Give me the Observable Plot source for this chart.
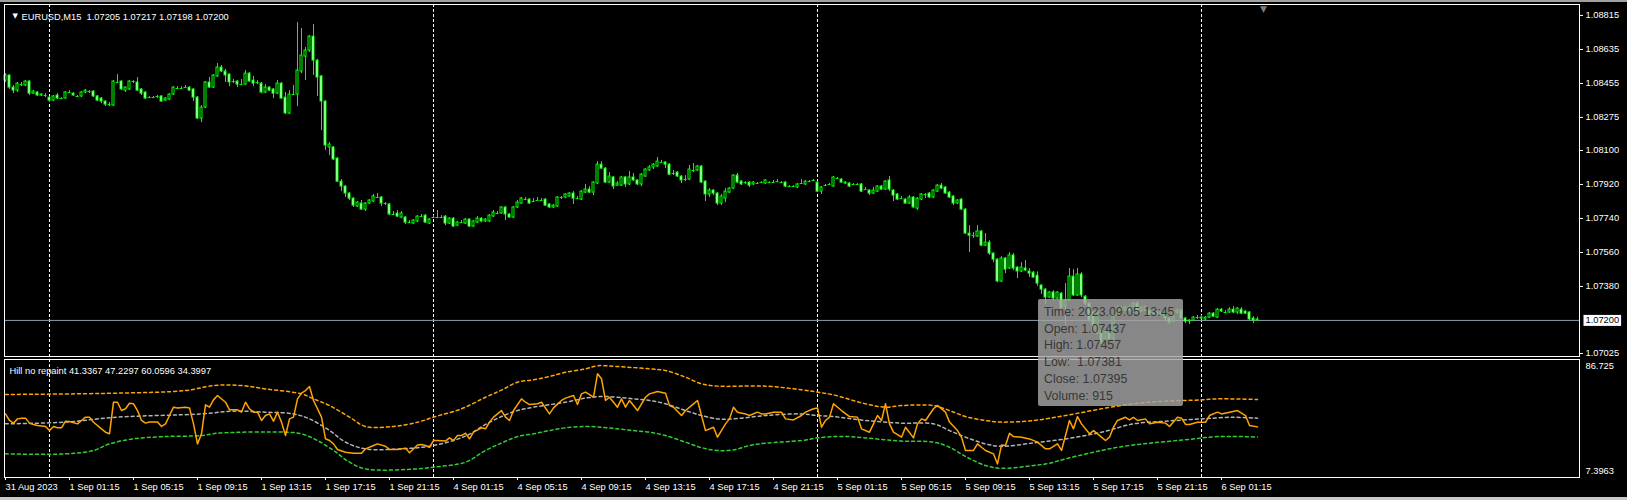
<!DOCTYPE html>
<html><head><meta charset="utf-8">
<script src="https://cdn.jsdelivr.net/npm/d3@7"></script>
<script src="https://cdn.jsdelivr.net/npm/@observablehq/plot@0.6"></script>
<style>
html,body{margin:0;padding:0;background:#000;}
#wrap{position:relative;width:1627px;height:500px;background:#000;overflow:hidden;font-family:"Liberation Sans",Arial,sans-serif;}
#main{position:absolute;left:0;top:0;}
#ind{position:absolute;left:0;top:357px;}
#topbar{position:absolute;left:0;top:0;width:1627px;height:2px;background:#a0a0a0;}
#botbar{position:absolute;left:0;top:497px;width:1627px;height:3px;background:#c8c8c8;}
#tip{position:absolute;left:1038px;top:299px;width:145px;height:107px;background:rgba(165,165,165,0.82);border-radius:2px;color:#383838;font-size:12.4px;line-height:16.7px;padding:5px 0 0 6px;box-sizing:border-box;white-space:pre;}
</style></head>
<body><div id="wrap"><div id="main"></div><div id="ind"></div><div id="topbar"></div><div id="botbar"></div><div id="tip"></div></div>
<script>
const symbol = "EURUSD,M15";
const open = [1.08470,1.08497,1.08433,1.08417,1.08449,1.08444,1.08465,1.08401,1.08407,1.08391,
1.08391,1.08380,1.08364,1.08391,1.08375,1.08375,1.08407,1.08401,1.08386,1.08386,
1.08407,1.08412,1.08412,1.08386,1.08375,1.08359,1.08343,1.08338,1.08460,1.08465,
1.08417,1.08423,1.08465,1.08460,1.08423,1.08407,1.08380,1.08380,1.08386,1.08386,
1.08364,1.08370,1.08396,1.08428,1.08428,1.08433,1.08433,1.08423,1.08380,1.08269,
1.08327,1.08460,1.08433,1.08492,1.08539,1.08518,1.08502,1.08465,1.08465,1.08449,
1.08449,1.08507,1.08470,1.08460,1.08454,1.08407,1.08433,1.08423,1.08401,1.08454,
1.08380,1.08296,1.08396,1.08396,1.08518,1.08597,1.08629,1.08703,1.08576,1.08492,
1.08359,1.08116,1.08116,1.08057,1.07935,1.07909,1.07872,1.07845,1.07803,1.07819,
1.07787,1.07819,1.07830,1.07851,1.07851,1.07819,1.07814,1.07761,1.07766,1.07745,
1.07745,1.07718,1.07713,1.07724,1.07750,1.07755,1.07713,1.07745,1.07745,1.07745,
1.07750,1.07713,1.07739,1.07702,1.07718,1.07713,1.07734,1.07697,1.07718,1.07739,
1.07724,1.07724,1.07750,1.07766,1.07766,1.07798,1.07761,1.07745,1.07798,1.07819,
1.07840,1.07840,1.07830,1.07835,1.07835,1.07840,1.07814,1.07798,1.07803,1.07851,
1.07851,1.07856,1.07872,1.07845,1.07840,1.07877,1.07893,1.07877,1.07925,1.08025,
1.08004,1.07930,1.07957,1.07914,1.07914,1.07957,1.07920,1.07957,1.07941,1.07920,
1.07962,1.07994,1.08010,1.08015,1.08036,1.08036,1.08025,1.07978,1.07983,1.07962,
1.07946,1.07946,1.07994,1.07994,1.08015,1.07935,1.07867,1.07888,1.07872,1.07819,
1.07845,1.07877,1.07898,1.07967,1.07935,1.07930,1.07930,1.07920,1.07925,1.07930,
1.07925,1.07930,1.07930,1.07935,1.07930,1.07930,1.07909,1.07909,1.07904,1.07925,
1.07920,1.07935,1.07941,1.07930,1.07882,1.07914,1.07920,1.07909,1.07951,1.07946,
1.07930,1.07925,1.07920,1.07920,1.07920,1.07893,1.07888,1.07872,1.07882,1.07909,
1.07893,1.07941,1.07888,1.07867,1.07845,1.07840,1.07819,1.07851,1.07792,1.07840,
1.07867,1.07872,1.07851,1.07882,1.07914,1.07904,1.07877,1.07856,1.07819,1.07840,
1.07787,1.07660,1.07649,1.07644,1.07671,1.07596,1.07612,1.07554,1.07522,1.07406,
1.07528,1.07475,1.07544,1.07480,1.07459,1.07475,1.07459,1.07453,1.07437,1.07385,
1.07363,1.07321,1.07348,1.07316,1.07342,1.07273,1.07305,1.07432,1.07332,1.07443,
1.07326,1.07289,1.07242,1.07130,1.07146,1.07104,1.07136,1.07104,1.07226,1.07263,
1.07252,1.07268,1.07252,1.07289,1.07247,1.07268,1.07252,1.07226,1.07236,1.07242,
1.07231,1.07210,1.07194,1.07242,1.07252,1.07210,1.07194,1.07199,1.07215,1.07215,
1.07205,1.07215,1.07236,1.07215,1.07257,1.07242,1.07242,1.07257,1.07242,1.07257,
1.07247,1.07242,1.07210,1.07205];
const high = [1.08507,1.08502,1.08444,1.08460,1.08460,1.08470,1.08470,1.08417,1.08412,1.08401,
1.08401,1.08386,1.08391,1.08401,1.08380,1.08412,1.08417,1.08407,1.08391,1.08412,
1.08423,1.08417,1.08417,1.08391,1.08380,1.08364,1.08354,1.08470,1.08502,1.08470,
1.08438,1.08470,1.08470,1.08486,1.08428,1.08412,1.08386,1.08386,1.08391,1.08391,
1.08380,1.08401,1.08438,1.08438,1.08438,1.08444,1.08438,1.08428,1.08386,1.08338,
1.08465,1.08486,1.08502,1.08560,1.08550,1.08529,1.08507,1.08476,1.08470,1.08476,
1.08523,1.08513,1.08492,1.08470,1.08460,1.08449,1.08438,1.08428,1.08470,1.08460,
1.08407,1.08417,1.08444,1.08777,1.08746,1.08645,1.08709,1.08767,1.08582,1.08497,
1.08364,1.08142,1.08121,1.08063,1.07946,1.07914,1.07877,1.07851,1.07830,1.07835,
1.07824,1.07840,1.07867,1.07872,1.07856,1.07824,1.07819,1.07777,1.07782,1.07777,
1.07750,1.07729,1.07734,1.07755,1.07761,1.07761,1.07739,1.07755,1.07782,1.07755,
1.07755,1.07745,1.07745,1.07724,1.07729,1.07739,1.07739,1.07729,1.07750,1.07745,
1.07739,1.07761,1.07782,1.07777,1.07803,1.07803,1.07766,1.07803,1.07835,1.07851,
1.07851,1.07845,1.07845,1.07851,1.07845,1.07845,1.07819,1.07814,1.07856,1.07856,
1.07872,1.07877,1.07882,1.07856,1.07888,1.07920,1.07909,1.07935,1.08041,1.08041,
1.08010,1.07983,1.07962,1.07935,1.07962,1.07962,1.07988,1.07978,1.07946,1.07978,
1.08004,1.08020,1.08031,1.08063,1.08047,1.08041,1.08031,1.07994,1.07988,1.07967,
1.07967,1.08020,1.08031,1.08020,1.08020,1.07941,1.07898,1.07893,1.07877,1.07867,
1.07898,1.07904,1.07972,1.07978,1.07941,1.07935,1.07935,1.07935,1.07930,1.07935,
1.07946,1.07935,1.07941,1.07946,1.07935,1.07935,1.07914,1.07914,1.07925,1.07946,
1.07941,1.07941,1.07946,1.07935,1.07909,1.07920,1.07925,1.07962,1.07957,1.07951,
1.07935,1.07930,1.07925,1.07925,1.07925,1.07904,1.07893,1.07904,1.07914,1.07914,
1.07941,1.07962,1.07893,1.07872,1.07856,1.07845,1.07861,1.07856,1.07851,1.07872,
1.07872,1.07877,1.07893,1.07920,1.07925,1.07909,1.07882,1.07861,1.07840,1.07845,
1.07792,1.07702,1.07665,1.07702,1.07676,1.07660,1.07623,1.07559,1.07528,1.07538,
1.07533,1.07559,1.07554,1.07485,1.07506,1.07517,1.07475,1.07459,1.07457,1.07390,
1.07369,1.07353,1.07358,1.07353,1.07348,1.07395,1.07475,1.07469,1.07475,1.07453,
1.07332,1.07295,1.07247,1.07257,1.07152,1.07141,1.07146,1.07231,1.07279,1.07273,
1.07273,1.07279,1.07295,1.07300,1.07273,1.07279,1.07257,1.07242,1.07247,1.07247,
1.07236,1.07215,1.07252,1.07263,1.07257,1.07215,1.07205,1.07220,1.07226,1.07226,
1.07220,1.07242,1.07242,1.07263,1.07263,1.07252,1.07268,1.07273,1.07268,1.07268,
1.07252,1.07247,1.07220,1.07217];
const low = [1.08460,1.08423,1.08401,1.08407,1.08438,1.08438,1.08391,1.08396,1.08386,1.08386,
1.08380,1.08354,1.08359,1.08370,1.08370,1.08370,1.08401,1.08386,1.08380,1.08380,
1.08401,1.08401,1.08380,1.08359,1.08348,1.08333,1.08333,1.08333,1.08454,1.08417,
1.08407,1.08417,1.08454,1.08412,1.08391,1.08370,1.08375,1.08375,1.08375,1.08354,
1.08359,1.08364,1.08391,1.08423,1.08423,1.08428,1.08412,1.08359,1.08264,1.08248,
1.08322,1.08428,1.08428,1.08486,1.08513,1.08460,1.08438,1.08454,1.08433,1.08444,
1.08444,1.08460,1.08438,1.08449,1.08401,1.08401,1.08412,1.08375,1.08396,1.08370,
1.08290,1.08290,1.08391,1.08333,1.08507,1.08470,1.08619,1.08497,1.08386,1.08206,
1.08100,1.08073,1.08047,1.07930,1.07882,1.07851,1.07835,1.07798,1.07798,1.07782,
1.07777,1.07814,1.07824,1.07845,1.07803,1.07808,1.07755,1.07755,1.07745,1.07739,
1.07708,1.07713,1.07708,1.07718,1.07745,1.07713,1.07708,1.07739,1.07739,1.07739,
1.07702,1.07708,1.07692,1.07697,1.07713,1.07708,1.07692,1.07692,1.07713,1.07718,
1.07718,1.07718,1.07745,1.07761,1.07761,1.07729,1.07739,1.07739,1.07792,1.07814,
1.07835,1.07814,1.07824,1.07830,1.07830,1.07803,1.07792,1.07792,1.07798,1.07840,
1.07845,1.07851,1.07814,1.07840,1.07835,1.07872,1.07872,1.07861,1.07920,1.07999,
1.07925,1.07925,1.07893,1.07909,1.07909,1.07904,1.07914,1.07935,1.07914,1.07909,
1.07957,1.07988,1.07999,1.08010,1.08031,1.08004,1.07967,1.07967,1.07957,1.07925,
1.07935,1.07941,1.07983,1.07988,1.07925,1.07830,1.07851,1.07861,1.07808,1.07808,
1.07824,1.07872,1.07893,1.07925,1.07914,1.07920,1.07904,1.07914,1.07920,1.07925,
1.07920,1.07925,1.07925,1.07930,1.07925,1.07904,1.07904,1.07904,1.07898,1.07920,
1.07914,1.07930,1.07935,1.07877,1.07867,1.07909,1.07914,1.07904,1.07946,1.07925,
1.07920,1.07904,1.07914,1.07914,1.07877,1.07888,1.07861,1.07867,1.07877,1.07888,
1.07888,1.07882,1.07830,1.07835,1.07840,1.07814,1.07814,1.07792,1.07782,1.07835,
1.07845,1.07845,1.07845,1.07877,1.07893,1.07867,1.07845,1.07808,1.07814,1.07782,
1.07655,1.07559,1.07634,1.07639,1.07591,1.07591,1.07544,1.07506,1.07400,1.07400,
1.07448,1.07469,1.07464,1.07422,1.07453,1.07459,1.07427,1.07422,1.07381,1.07337,
1.07284,1.07316,1.07305,1.07310,1.07252,1.07173,1.07300,1.07326,1.07326,1.07321,
1.07279,1.07189,1.07141,1.07125,1.07072,1.07093,1.07088,1.07093,1.07220,1.07247,
1.07247,1.07247,1.07242,1.07236,1.07242,1.07247,1.07215,1.07220,1.07226,1.07226,
1.07199,1.07178,1.07189,1.07231,1.07205,1.07183,1.07178,1.07194,1.07205,1.07205,
1.07199,1.07210,1.07215,1.07210,1.07242,1.07236,1.07236,1.07236,1.07231,1.07231,
1.07231,1.07199,1.07183,1.07198];
const close = [1.08497,1.08433,1.08417,1.08454,1.08449,1.08465,1.08401,1.08412,1.08391,1.08396,
1.08391,1.08364,1.08386,1.08375,1.08375,1.08407,1.08407,1.08391,1.08386,1.08407,
1.08417,1.08412,1.08386,1.08364,1.08359,1.08343,1.08343,1.08465,1.08460,1.08423,
1.08433,1.08465,1.08465,1.08417,1.08401,1.08375,1.08380,1.08380,1.08386,1.08359,
1.08375,1.08396,1.08433,1.08428,1.08428,1.08433,1.08417,1.08380,1.08269,1.08327,
1.08460,1.08433,1.08497,1.08539,1.08518,1.08497,1.08460,1.08465,1.08449,1.08449,
1.08507,1.08465,1.08454,1.08460,1.08407,1.08433,1.08417,1.08401,1.08454,1.08375,
1.08296,1.08396,1.08396,1.08523,1.08603,1.08629,1.08703,1.08576,1.08486,1.08359,
1.08126,1.08131,1.08052,1.07935,1.07909,1.07872,1.07845,1.07808,1.07824,1.07787,
1.07819,1.07835,1.07856,1.07851,1.07819,1.07819,1.07761,1.07761,1.07750,1.07766,
1.07718,1.07718,1.07729,1.07750,1.07750,1.07718,1.07734,1.07745,1.07745,1.07745,
1.07713,1.07739,1.07697,1.07718,1.07718,1.07734,1.07697,1.07724,1.07739,1.07724,
1.07734,1.07755,1.07771,1.07766,1.07798,1.07761,1.07745,1.07798,1.07824,1.07845,
1.07840,1.07819,1.07830,1.07835,1.07835,1.07808,1.07798,1.07808,1.07851,1.07851,
1.07867,1.07872,1.07845,1.07845,1.07882,1.07893,1.07877,1.07930,1.08025,1.08004,
1.07930,1.07962,1.07909,1.07925,1.07957,1.07920,1.07957,1.07941,1.07920,1.07972,
1.07999,1.08010,1.08025,1.08041,1.08036,1.08025,1.07972,1.07978,1.07962,1.07941,
1.07946,1.07999,1.07994,1.08015,1.07930,1.07867,1.07888,1.07872,1.07819,1.07856,
1.07882,1.07898,1.07967,1.07930,1.07920,1.07930,1.07914,1.07930,1.07925,1.07930,
1.07941,1.07930,1.07930,1.07935,1.07930,1.07909,1.07909,1.07909,1.07920,1.07925,
1.07935,1.07935,1.07941,1.07882,1.07904,1.07914,1.07920,1.07957,1.07951,1.07930,
1.07925,1.07909,1.07920,1.07920,1.07882,1.07893,1.07872,1.07888,1.07909,1.07893,
1.07935,1.07893,1.07861,1.07840,1.07845,1.07819,1.07851,1.07798,1.07845,1.07867,
1.07867,1.07851,1.07888,1.07914,1.07898,1.07872,1.07851,1.07819,1.07835,1.07787,
1.07660,1.07649,1.07649,1.07671,1.07596,1.07612,1.07554,1.07522,1.07406,1.07528,
1.07469,1.07544,1.07475,1.07459,1.07480,1.07464,1.07448,1.07427,1.07395,1.07363,
1.07321,1.07348,1.07316,1.07348,1.07263,1.07305,1.07432,1.07332,1.07443,1.07332,
1.07289,1.07199,1.07152,1.07247,1.07083,1.07136,1.07099,1.07226,1.07263,1.07252,
1.07268,1.07252,1.07289,1.07242,1.07268,1.07252,1.07226,1.07236,1.07242,1.07231,
1.07210,1.07189,1.07242,1.07252,1.07210,1.07194,1.07199,1.07215,1.07215,1.07210,
1.07215,1.07236,1.07220,1.07257,1.07247,1.07242,1.07257,1.07242,1.07263,1.07236,
1.07236,1.07205,1.07199,1.07200];

// day separators (bar index of 00:00) and time-axis ticks
const dayIdx = [11, 107, 203, 299];
const timeTickIdx = [0,16,32,48,64,80,96,112,128,144,160,176,192,208,224,240,256,272,288,304];
const timeTickLabels = ["31 Aug 2023","1 Sep 01:15","1 Sep 05:15","1 Sep 09:15","1 Sep 13:15","1 Sep 17:15","1 Sep 21:15","4 Sep 01:15","4 Sep 05:15","4 Sep 09:15","4 Sep 13:15","4 Sep 17:15","4 Sep 21:15","5 Sep 01:15","5 Sep 05:15","5 Sep 09:15","5 Sep 13:15","5 Sep 17:15","5 Sep 21:15","6 Sep 01:15"];
const priceTicks = [1.08815,1.08635,1.08455,1.08275,1.08100,1.07920,1.07740,1.07560,1.07380,1.07025];
const indRange = [7.3963, 86.725];

// Hill no repaint indicator
const hillPts = [[0,50.2],[1,45.7],[2,43.9],[3,46.8],[4,47.3],[5,47.3],[6,43.9],[7,42.9],[8,42.3],[10,41.6],[11,38.8],[12,41.6],[13,40.7],[14,40.7],[15,45.2],[16,45.0],[18,43.4],[19,45.7],[20,48.0],[21,48.0],[22,44.5],[24,40.0],[25,37.7],[26,36.6],[27,58.2],[28,58.2],[29,52.5],[30,53.7],[31,57.5],[32,57.1],[33,52.5],[34,45.7],[35,43.9],[36,44.6],[38,44.6],[39,41.6],[40,43.4],[41,49.1],[42,54.8],[43,54.3],[45,54.8],[46,54.3],[47,43.4],[48,29.7],[49,36.6],[50,56.4],[51,54.8],[52,59.8],[53,62.8],[55,58.2],[56,53.0],[58,53.0],[59,51.4],[60,58.2],[61,53.7],[62,51.4],[63,51.4],[64,45.7],[65,49.1],[66,50.2],[67,45.2],[68,51.4],[69,44.6],[70,35.4],[71,46.8],[72,48.0],[73,60.5],[74,64.4],[75,66.2],[76,68.9],[77,59.4],[79,48.0],[80,33.2],[81,32.0],[82,29.7],[83,25.9],[85,24.0],[87,23.3],[89,23.3],[90,26.3],[92,28.6],[93,29.7],[95,28.1],[96,25.9],[98,25.9],[100,26.8],[101,23.6],[103,29.0],[104,29.3],[105,28.6],[106,27.4],[107,32.0],[108,32.0],[110,31.6],[111,33.8],[112,32.0],[113,35.4],[114,35.4],[115,37.0],[116,33.2],[117,37.7],[119,40.7],[120,40.0],[121,44.6],[122,48.0],[124,52.5],[125,48.0],[126,45.7],[127,52.5],[129,60.5],[130,58.2],[131,56.6],[133,57.1],[134,58.2],[136,50.2],[137,54.3],[139,59.4],[140,61.0],[142,62.8],[143,56.6],[144,63.9],[145,65.1],[147,61.6],[148,77.6],[149,74.2],[150,59.4],[151,61.6],[153,54.8],[154,60.5],[155,54.8],[156,59.4],[158,52.5],[160,61.6],[161,63.9],[163,65.5],[165,64.4],[166,55.9],[167,54.8],[169,49.1],[170,52.5],[172,57.1],[173,59.4],[174,49.1],[175,38.8],[177,41.1],[178,34.3],[180,43.4],[181,46.8],[182,54.8],[183,51.4],[185,50.2],[186,49.1],[188,51.4],[189,50.2],[190,50.2],[192,51.4],[194,51.4],[195,46.8],[197,46.1],[199,49.1],[200,51.4],[202,53.7],[203,54.3],[204,41.1],[205,45.7],[206,48.0],[207,57.1],[209,52.5],[211,48.4],[213,48.0],[214,40.0],[216,37.7],[217,43.4],[218,49.1],[219,45.7],[220,57.1],[221,43.4],[222,37.7],[224,34.3],[225,41.1],[227,33.8],[228,43.4],[229,46.8],[230,45.7],[232,53.7],[233,56.0],[235,51.4],[236,44.6],[238,38.8],[239,34.3],[240,25.2],[242,25.2],[243,29.7],[244,27.4],[245,25.2],[247,22.9],[248,16.0],[249,29.0],[250,28.6],[251,37.0],[252,34.7],[254,34.3],[256,33.1],[258,30.9],[260,26.3],[261,26.3],[263,29.7],[264,25.2],[265,35.4],[266,45.7],[267,40.0],[268,48.4],[269,43.4],[271,36.6],[272,38.8],[274,34.3],[275,32.0],[276,34.3],[277,41.1],[278,45.7],[280,47.9],[281,46.1],[282,47.9],[283,45.7],[285,46.8],[286,43.4],[288,44.5],[290,43.9],[291,41.6],[293,47.9],[294,47.3],[295,43.0],[296,43.0],[298,44.5],[300,44.5],[301,49.1],[303,51.4],[304,50.2],[306,51.4],[308,52.5],[310,49.1],[311,42.3],[313,41.3367]];
const upperPts = [[0,63.5],[28,64.4],[45,66.2],[52,69.6],[59,69.6],[65,67.3],[74,63.9],[77,60.5],[81,55.9],[86,48.0],[90,41.6],[97,41.6],[103,44.5],[107,48.0],[114,53.7],[120,61.6],[124,66.5],[128,71.9],[132,73.5],[136,75.8],[140,78.7],[145,81.0],[148,83.1],[153,82.6],[161,81.0],[165,79.9],[170,75.3],[174,70.8],[178,69.2],[190,69.2],[199,66.7],[203,65.1],[207,63.2],[215,57.1],[220,54.8],[224,55.9],[232,55.9],[236,52.5],[240,48.4],[245,45.7],[249,44.6],[257,45.7],[265,49.1],[274,53.7],[282,57.1],[290,58.9],[299,59.8],[303,60.5],[313,60.0596]];
const middlePts = [[0,43.4],[15,44.6],[28,48.0],[49,50.2],[57,52.1],[65,51.4],[72,50.2],[76,46.8],[81,38.9],[85,30.9],[90,26.3],[99,26.3],[107,28.6],[115,35.0],[120,43.0],[124,48.4],[128,52.5],[132,54.8],[140,58.2],[145,61.0],[149,62.1],[153,61.6],[157,60.5],[161,59.4],[165,57.1],[170,52.5],[174,49.1],[178,46.8],[182,46.8],[190,49.1],[199,50.2],[203,49.1],[207,48.4],[215,45.7],[224,43.9],[232,43.4],[236,38.8],[240,34.3],[245,29.7],[249,28.0],[257,30.4],[265,33.1],[274,37.7],[282,43.4],[290,45.2],[299,46.8],[307,47.9],[313,47.2297]];
const lowerPts = [[0,22.9],[15,22.9],[22,25.2],[26,29.7],[32,33.2],[40,34.7],[49,35.4],[53,37.0],[70,37.7],[74,36.6],[78,32.0],[82,25.2],[86,17.2],[90,12.6],[103,12.6],[107,13.8],[115,17.2],[120,25.2],[124,30.3],[128,34.7],[132,36.6],[136,38.8],[140,40.7],[145,41.6],[149,41.1],[153,40.0],[157,38.8],[161,37.7],[165,35.4],[170,30.9],[174,27.1],[178,25.2],[182,25.6],[186,28.6],[190,30.2],[199,32.0],[203,33.8],[207,34.7],[211,34.7],[215,33.8],[220,32.5],[224,31.6],[232,30.9],[236,27.4],[240,21.1],[245,14.9],[249,13.0],[257,14.9],[261,16.5],[265,19.5],[274,25.2],[278,27.4],[286,30.2],[295,32.5],[303,34.7],[313,34.3997]];
const hillLegend = ["Hill no repaint", "41.3367", "47.2297", "60.0596", "34.3997"];
const tipBar = 258, tipTime = "2023.09.05 13:45", tipVolume = 915;

const bars = open.map((o, i) => ({i, open: o, high: high[i], low: low[i], close: close[i]}));
const last = bars[bars.length - 1];
const LIME = "#00ff00";
const font = "'Liberation Sans', Arial, sans-serif";
const xOpts = {type: "linear", domain: [-0.25, 393.5], range: [4, 1579], axis: null, label: null};
const pts = a => a.map(([i, v]) => ({i, v}));

const main = Plot.plot({
  width: 1627, height: 357,
  marginLeft: 4, marginRight: 48, marginTop: 4, marginBottom: 1,
  style: {background: "#000", color: "#fff", fontFamily: font, fontSize: "9.3px", overflow: "visible"},
  x: xOpts,
  y: {domain: [1.07009, 1.08873], range: [356, 4], axis: null, label: null},
  marks: [
    Plot.ruleX(dayIdx, {x: d => d, stroke: "#fff", strokeDasharray: "3,2"}),
    Plot.ruleY([last.close], {y: d => d, stroke: "#8a9aab"}),
    Plot.ruleX(bars, {x: "i", y1: "low", y2: "high", stroke: LIME}),
    Plot.rect(bars.filter(d => d.open !== d.close), {x1: d => d.i - 0.25, x2: d => d.i + 0.25, y1: "open", y2: "close", fill: d => d.close > d.open ? "#000" : "#fff", stroke: LIME}),
    Plot.ruleY(bars.filter(d => d.open === d.close), {y: "open", x1: d => d.i - 0.375, x2: d => d.i + 0.375, stroke: LIME}),
    Plot.frame({stroke: "#fff"}),
    Plot.axisY(priceTicks, {anchor: "right", tickSize: 3, tickPadding: 3, tickFormat: d => d.toFixed(5), fontSize: 9.3}),
    Plot.text([last.close], {y: d => d, frameAnchor: "right", dx: 6, textAnchor: "start", text: d => d.toFixed(5), fill: "#000", fontSize: 9.3}),
    Plot.text(["▼"], {frameAnchor: "top-left", dx: 8, dy: 9, text: d => d, fill: "#fff", fontSize: 7, fontFamily: "DejaVu Sans"}),
    Plot.text([`${symbol}  ${last.open.toFixed(5)} ${last.high.toFixed(5)} ${last.low.toFixed(5)} ${last.close.toFixed(5)}`], {frameAnchor: "top-left", dx: 17, dy: 9, textAnchor: "start", text: d => d, fill: "#fff", fontSize: 9.3}),
    Plot.text(["▼"], {x: [last.i + 1.5], frameAnchor: "top", dy: 1, text: d => d, fill: "#7a7a7a", fontSize: 9, fontFamily: "DejaVu Sans"})
  ]
});
document.getElementById("main").appendChild(main);
// white box behind the current price tag
for (const t of main.querySelectorAll("text")) {
  if (t.textContent === last.close.toFixed(5)) {
    const b = t.getBBox();
    const r = document.createElementNS("http://www.w3.org/2000/svg", "rect");
    r.setAttribute("x", b.x - 2); r.setAttribute("y", b.y - 0.5);
    r.setAttribute("width", b.width + 4); r.setAttribute("height", b.height + 1);
    r.setAttribute("fill", "#fff");
    if (t.getAttribute("transform")) r.setAttribute("transform", t.getAttribute("transform"));
    t.parentNode.insertBefore(r, t);
  }
}

const ind = Plot.plot({
  width: 1627, height: 143,
  marginLeft: 4, marginRight: 48, marginTop: 2, marginBottom: 23,
  style: {background: "#000", color: "#fff", fontFamily: font, fontSize: "9.3px", overflow: "visible"},
  x: xOpts,
  y: {domain: indRange, range: [119, 3], axis: null, label: null},
  marks: [
    Plot.ruleX(dayIdx, {x: d => d, stroke: "#fff", strokeDasharray: "3,2"}),
    Plot.line(pts(upperPts), {x: "i", y: "v", stroke: "#ffa500", strokeDasharray: "3,3", curve: "catmull-rom"}),
    Plot.line(pts(lowerPts), {x: "i", y: "v", stroke: "#32cd32", strokeDasharray: "3,3", curve: "catmull-rom"}),
    Plot.line(pts(middlePts), {x: "i", y: "v", stroke: "#b4b4b4", strokeDasharray: "3,3", curve: "catmull-rom"}),
    Plot.line(pts(hillPts), {x: "i", y: "v", stroke: "#ffa500"}),
    Plot.frame({stroke: "#fff"}),
    Plot.axisX(timeTickIdx, {anchor: "bottom", tickSize: 3, tickPadding: 3, textAnchor: "start", dx: 0, fontSize: 9.3, tickFormat: d => timeTickLabels[timeTickIdx.indexOf(d)]}),
    Plot.text([indRange[1]], {y: d => d, frameAnchor: "right", dx: 6, dy: 6, textAnchor: "start", text: d => String(d), fontSize: 9.3}),
    Plot.text([indRange[0]], {y: d => d, frameAnchor: "right", dx: 6, dy: -5, textAnchor: "start", text: d => String(d), fontSize: 9.3}),
    Plot.text([hillLegend.join(" ")], {frameAnchor: "top-left", dx: 5, dy: 8, textAnchor: "start", text: d => d, fill: "#fff", fontSize: 9.3})
  ]
});
document.getElementById("ind").appendChild(ind);

const tb = bars[tipBar];
document.getElementById("tip").textContent =
  `Time: ${tipTime}\nOpen: ${tb.open.toFixed(5)}\nHigh: ${tb.high.toFixed(5)}\nLow:  ${tb.low.toFixed(5)}\nClose: ${tb.close.toFixed(5)}\nVolume: ${tipVolume}`;
</script>
</body></html>
